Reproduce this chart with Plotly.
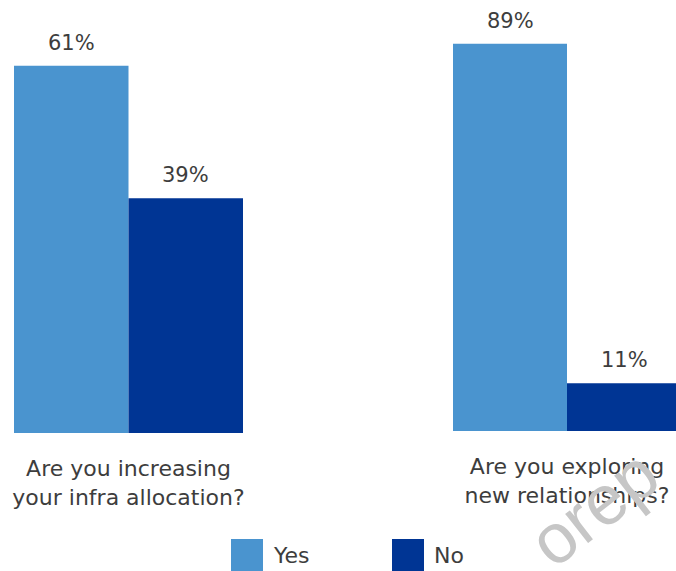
import plotly.graph_objects as go

# Survey responses, one panel per question
questions = [
    "Are you increasing<br>your infra allocation?",
    "Are you exploring<br>new relationships?",
]
series = ["Yes", "No"]
yes_pct = [61, 89]
no_pct = [39, 11]
colors = {"Yes": "#4A94CF", "No": "#003594"}
text_color = "#3d3d3d"
font_family = "DejaVu Sans, Verdana, sans-serif"

W, H = 676, 571

fig = go.Figure()

# Watermark (drawn first so the labels sit on top)
fig.add_annotation(
    x=594 / W, y=1 - 508 / H, xref="paper", yref="paper",
    xanchor="center", yanchor="middle",
    text="orep", showarrow=False, textangle=-38,
    font=dict(size=70, color="#c6c6c6", family="Liberation Sans, Arial"),
)

values = {"Yes": yes_pct, "No": no_pct}
offsets = {"Yes": -0.5, "No": 0.5}

for i, q in enumerate(questions):
    xa = "x" if i == 0 else "x2"
    ya = "y" if i == 0 else "y2"
    for s in series:
        v = values[s][i]
        fig.add_trace(go.Bar(
            x=[offsets[s]], y=[v], width=[1.0],
            marker=dict(color=colors[s], line=dict(width=0)),
            name=s, showlegend=False, xaxis=xa, yaxis=ya,
            hoverinfo="skip",
        ))
        fig.add_annotation(
            x=offsets[s], y=v, xref=xa, yref=ya,
            text=f"{v}%", showarrow=False, yanchor="bottom",
            yshift=9, font=dict(size=21, color=text_color, family=font_family),
        )

# Legend: large square swatches with labels
legend_x = [231, 392]
for s, lx in zip(series, legend_x):
    fig.add_shape(
        type="rect", xref="paper", yref="paper",
        x0=lx / W, x1=(lx + 32) / W, y0=1 - 571 / H, y1=1 - 539 / H,
        fillcolor=colors[s], line=dict(width=0),
    )
    fig.add_annotation(
        x=(lx + 40) / W, y=1 - 555 / H, xref="paper", yref="paper",
        text=s, showarrow=False, xanchor="left", yanchor="middle",
        font=dict(size=22, color=text_color, family=font_family),
    )

axis_common = dict(showgrid=False, zeroline=False, showline=False,
                   ticks="", fixedrange=True)

fig.update_layout(
    width=W, height=H,
    margin=dict(l=0, r=0, t=0, b=0),
    paper_bgcolor="white", plot_bgcolor="white",
    barmode="overlay",
    showlegend=False,
    xaxis=dict(domain=[0, 300 / W], range=[(0 - 128.5) / 114.5, (300 - 128.5) / 114.5],
               tickvals=[0], ticktext=[questions[0]], ticklabelstandoff=20,
               tickfont=dict(size=22, color=text_color, family=font_family),
               anchor="y", **axis_common),
    yaxis=dict(domain=[(H - 433) / H, 1], range=[0, 433 / 6.02],
               showticklabels=False, anchor="x", **axis_common),
    xaxis2=dict(domain=[340 / W, 1], range=[(340 - 567) / 114.0, (676 - 567) / 114.0],
                tickvals=[0], ticktext=[questions[1]], ticklabelstandoff=20,
                tickfont=dict(size=22, color=text_color, family=font_family),
                anchor="y2", **axis_common),
    yaxis2=dict(domain=[(H - 431) / H, 1], range=[0, 431 / 4.35],
                showticklabels=False, anchor="x2", **axis_common),
)

fig.write_html("out.html")
